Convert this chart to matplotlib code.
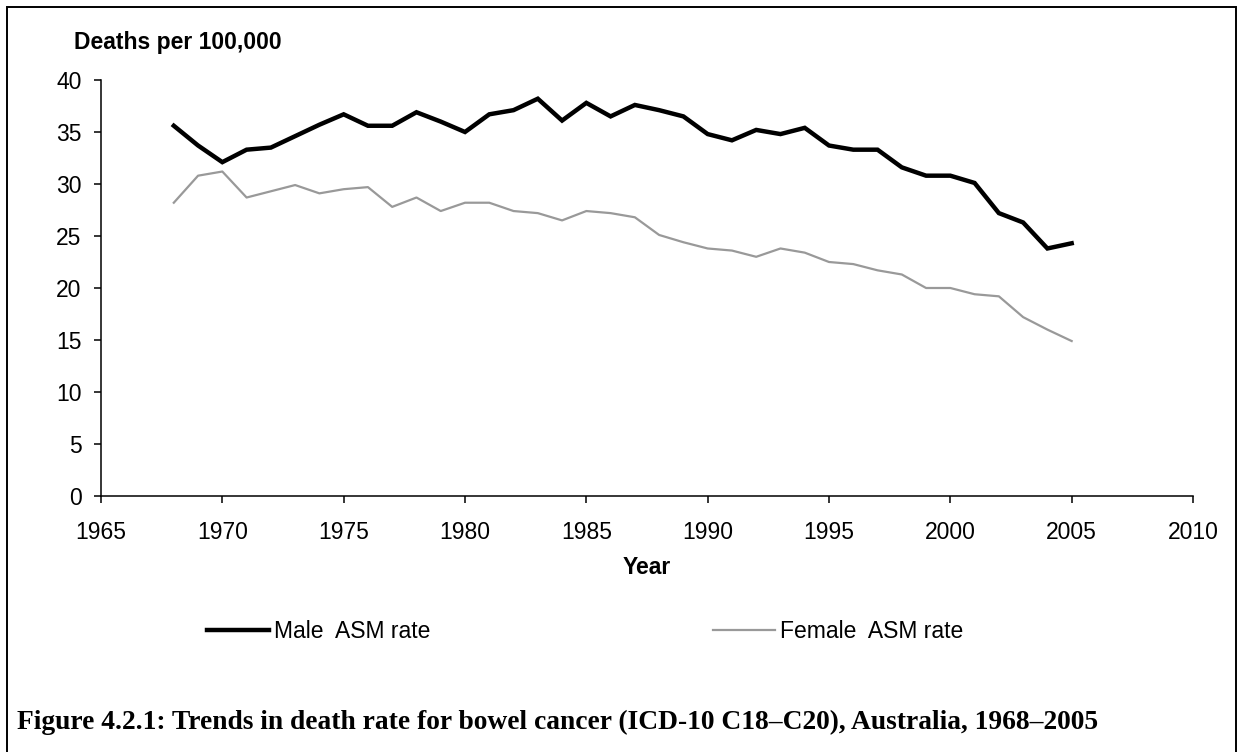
import matplotlib
matplotlib.use("Agg")
import matplotlib.pyplot as plt
from matplotlib.patches import Rectangle

plt.rcParams['font.family'] = ['Liberation Sans', 'DejaVu Sans']

years = list(range(1968, 2006))

# age-standardised mortality rates, deaths per 100,000
male_rate = [35.6, 33.7, 32.1, 33.3, 33.5, 34.6, 35.7, 36.7, 35.6, 35.6,
             36.9, 36.0, 35.0, 36.7, 37.1, 38.2, 36.1, 37.8, 36.5, 37.6,
             37.1, 36.5, 34.8, 34.2, 35.2, 34.8, 35.4, 33.7, 33.3, 33.3,
             31.6, 30.8, 30.8, 30.1, 27.2, 26.3, 23.8, 24.3]
female_rate = [28.2, 30.8, 31.2, 28.7, 29.3, 29.9, 29.1, 29.5, 29.7, 27.8,
               28.7, 27.4, 28.2, 28.2, 27.4, 27.2, 26.5, 27.4, 27.2, 26.8,
               25.1, 24.4, 23.8, 23.6, 23.0, 23.8, 23.4, 22.5, 22.3, 21.7,
               21.3, 20.0, 20.0, 19.4, 19.2, 17.2, 16.0, 14.9]

x_ticks = list(range(1965, 2011, 5))
y_ticks = list(range(0, 41, 5))

W, H = 1239, 752
FS = 16.5
fig = plt.figure(figsize=(W / 100, H / 100), dpi=100)
ax = fig.add_axes([101 / W, 1 - 496 / H, (1193 - 101) / W, (496 - 80) / H])

male_line, = ax.plot(years, male_rate, color='black', linewidth=3.2,
                     solid_joinstyle='miter', label='Male  ASM rate')
female_line, = ax.plot(years, female_rate, color='#999999', linewidth=1.6,
                       label='Female  ASM rate')

ax.set_xlim(1965, 2010)
ax.set_ylim(0, 40)
ax.set_xticks(x_ticks)
ax.set_yticks(y_ticks)
ax.spines['top'].set_visible(False)
ax.spines['right'].set_visible(False)
for s in ['left', 'bottom']:
    ax.spines[s].set_linewidth(1.1)
ax.tick_params(axis='both', direction='out', length=5, width=1.1, labelsize=FS)
ax.tick_params(axis='x', pad=13)
ax.tick_params(axis='y', pad=9)
ax.set_xlabel('Year', fontsize=FS, fontweight='bold', labelpad=9)

fig.text(74 / W, 1 - 43 / H, 'Deaths per 100,000', fontsize=FS,
         fontweight='bold', va='center', ha='left')

# legend, two separate entries spread across the figure
for handle, x0 in [(male_line, 207), (female_line, 713)]:
    fig.legend(handles=[handle], loc='center left',
               bbox_to_anchor=(x0 / W, 1 - 632 / H), frameon=False,
               borderpad=0, borderaxespad=0, handlelength=2.7,
               handletextpad=0.22, fontsize=FS)

fig.text(17 / W, 1 - 722 / H,
         'Figure 4.2.1: Trends in death rate for bowel cancer (ICD-10 C18\u2013C20), Australia, 1968\u20132005',
         fontsize=19.8, fontweight='bold', family='Liberation Serif',
         va='center', ha='left')

fig.patches.append(Rectangle((7 / W, -0.05), (1236 - 7) / W, 1.05 - 7 / H,
                             transform=fig.transFigure, fill=False,
                             edgecolor='black', linewidth=1.4))

fig.savefig('out.png', dpi=100)
